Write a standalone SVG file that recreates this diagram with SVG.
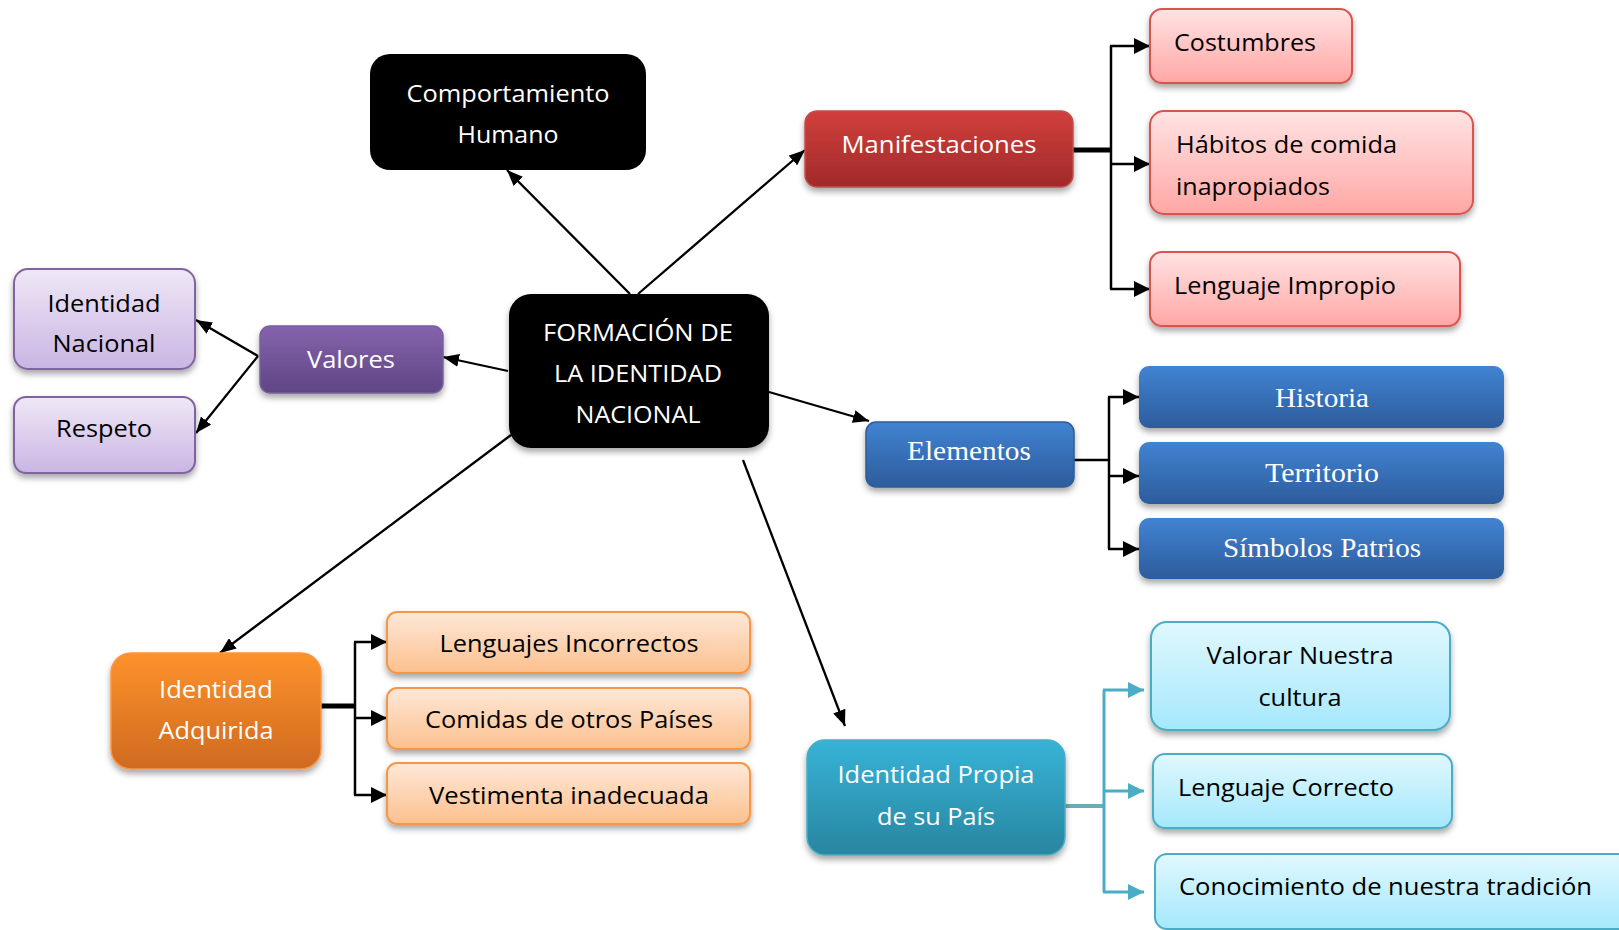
<svg xmlns="http://www.w3.org/2000/svg" width="1619" height="930" viewBox="0 0 1619 930">
<style>
.t{font-family:"Open Sans","Lato",sans-serif;font-size:24px;text-anchor:middle}
.tl{font-family:"Open Sans","Lato",sans-serif;font-size:24px;text-anchor:start}
.s{font-family:"Liberation Serif","Times New Roman",serif;font-size:28px;text-anchor:middle;fill:#fff}
.w{fill:#fff}.k{fill:#000}
.ln{stroke:#000;stroke-width:2.3;fill:none}
.br{stroke:#000;stroke-width:2.5;fill:none}
.tb{stroke:#4bacc6;stroke-width:3;fill:none}
</style>
<defs>
<filter id="sh" x="-10%" y="-10%" width="120%" height="130%"><feDropShadow dx="0" dy="4" stdDeviation="3" flood-color="#000" flood-opacity="0.35"/></filter>
<marker id="a" markerUnits="userSpaceOnUse" markerWidth="16" markerHeight="13" refX="16" refY="6.5" orient="auto"><path d="M0,0 L16,6.5 L0,13 z" fill="#000"/></marker>
<marker id="b" markerUnits="userSpaceOnUse" markerWidth="16" markerHeight="16" refX="16" refY="8" orient="auto"><path d="M0,0 L16,8 L0,16 z" fill="#000"/></marker>
<marker id="c" markerUnits="userSpaceOnUse" markerWidth="16" markerHeight="16" refX="16" refY="8" orient="auto"><path d="M0,0 L16,8 L0,16 z" fill="#4bacc6"/></marker>
<linearGradient id="gPu" x1="0" y1="0" x2="0" y2="1"><stop offset="0" stop-color="#8563ad"/><stop offset="1" stop-color="#5f4684"/></linearGradient>
<linearGradient id="gLp" x1="0" y1="0" x2="0" y2="1"><stop offset="0" stop-color="#efe8f6"/><stop offset="1" stop-color="#c9b5e3"/></linearGradient>
<linearGradient id="gRd" x1="0" y1="0" x2="0" y2="1"><stop offset="0" stop-color="#d03f3c"/><stop offset="1" stop-color="#a12a29"/></linearGradient>
<linearGradient id="gPk" x1="0" y1="0" x2="0" y2="1"><stop offset="0" stop-color="#ffe3e3"/><stop offset="1" stop-color="#ffa7a5"/></linearGradient>
<linearGradient id="gBl" x1="0" y1="0" x2="0" y2="1"><stop offset="0" stop-color="#4183d2"/><stop offset="1" stop-color="#2d5c9c"/></linearGradient>
<linearGradient id="gOr" x1="0" y1="0" x2="0" y2="1"><stop offset="0" stop-color="#fd922c"/><stop offset="1" stop-color="#cf6a1f"/></linearGradient>
<linearGradient id="gLo" x1="0" y1="0" x2="0" y2="1"><stop offset="0" stop-color="#fee8d8"/><stop offset="1" stop-color="#fcc08e"/></linearGradient>
<linearGradient id="gTe" x1="0" y1="0" x2="0" y2="1"><stop offset="0" stop-color="#37b3d7"/><stop offset="1" stop-color="#2886a0"/></linearGradient>
<linearGradient id="gCy" x1="0" y1="0" x2="0" y2="1"><stop offset="0" stop-color="#e0f8fe"/><stop offset="1" stop-color="#a5e8fc"/></linearGradient>
</defs>
<rect width="1619" height="930" fill="#fff"/>

<g id="connectors">
<path class="ln" d="M630,294 L507,170" marker-end="url(#a)"/>
<path class="ln" d="M638,294 L805,150" marker-end="url(#a)"/>
<path class="ln" d="M508,371 L443,357" marker-end="url(#a)"/>
<path class="ln" d="M258,356 L196,320" marker-end="url(#a)"/>
<path class="ln" d="M258,356 L196,433" marker-end="url(#a)"/>
<path class="ln" d="M769,392 L869,421" marker-end="url(#a)"/>
<path class="ln" d="M511,435 L220,653" marker-end="url(#a)"/>
<path class="ln" d="M743,460 L845,726" marker-end="url(#a)"/>

<path d="M1073,150 L1111,150" stroke="#000" stroke-width="5"/>
<path class="br" d="M1111,46 L1111,289"/>
<path class="br" d="M1110,46 L1150,46" marker-end="url(#b)"/>
<path class="br" d="M1110,164 L1150,164" marker-end="url(#b)"/>
<path class="br" d="M1110,289 L1150,289" marker-end="url(#b)"/>

<path class="br" d="M1074,460 L1109,460"/>
<path class="br" d="M1109,397 L1109,549"/>
<path class="br" d="M1108,397 L1139,397" marker-end="url(#b)"/>
<path class="br" d="M1108,476 L1139,476" marker-end="url(#b)"/>
<path class="br" d="M1108,549 L1139,549" marker-end="url(#b)"/>

<path d="M321,706 L355,706" stroke="#000" stroke-width="5"/>
<path class="br" d="M355,642 L355,795"/>
<path class="br" d="M354,642 L387,642" marker-end="url(#b)"/>
<path class="br" d="M354,718 L387,718" marker-end="url(#b)"/>
<path class="br" d="M354,795 L387,795" marker-end="url(#b)"/>

<path d="M1065,806 L1104,806" stroke="#6fa9b8" stroke-width="4"/>
<path class="tb" d="M1104,690 L1104,892"/>
<path class="tb" d="M1103,690 L1144,690" marker-end="url(#c)"/>
<path class="tb" d="M1103,791 L1144,791" marker-end="url(#c)"/>
<path class="tb" d="M1103,892 L1144,892" marker-end="url(#c)"/>
</g>

<g id="comportamiento">
<rect x="370" y="54" width="276" height="116" rx="20" fill="#000"/>
<text class="t w" x="508" y="102" textLength="203" lengthAdjust="spacingAndGlyphs">Comportamiento</text>
<text class="t w" x="508" y="143" textLength="101" lengthAdjust="spacingAndGlyphs">Humano</text>
</g>

<g id="formacion">
<rect x="509" y="294" width="260" height="154" rx="22" fill="#000" filter="url(#sh)"/>
<text class="t w" x="638" y="341" textLength="190" lengthAdjust="spacingAndGlyphs">FORMACIÓN DE</text>
<text class="t w" x="638" y="382" textLength="168" lengthAdjust="spacingAndGlyphs">LA IDENTIDAD</text>
<text class="t w" x="638" y="423" textLength="125" lengthAdjust="spacingAndGlyphs">NACIONAL</text>
</g>

<g id="valores">
<rect x="260" y="326" width="183" height="67" rx="10" fill="url(#gPu)" stroke="#7a5fa0" stroke-width="1.5" filter="url(#sh)"/>
<text class="t w" x="351" y="368" textLength="88" lengthAdjust="spacingAndGlyphs">Valores</text>
</g>

<g id="identidad-nacional">
<rect x="14" y="269" width="181" height="100" rx="14" fill="url(#gLp)" stroke="#8064a2" stroke-width="2" filter="url(#sh)"/>
<text class="t k" x="104" y="312" textLength="113" lengthAdjust="spacingAndGlyphs">Identidad</text>
<text class="t k" x="104" y="352" textLength="103" lengthAdjust="spacingAndGlyphs">Nacional</text>
</g>

<g id="respeto">
<rect x="14" y="397" width="181" height="76" rx="12" fill="url(#gLp)" stroke="#8064a2" stroke-width="2" filter="url(#sh)"/>
<text class="t k" x="104" y="437" textLength="96" lengthAdjust="spacingAndGlyphs">Respeto</text>
</g>

<g id="manifestaciones">
<rect x="805" y="111" width="268" height="76" rx="12" fill="url(#gRd)" stroke="#c0504d" stroke-width="1.5" filter="url(#sh)"/>
<text class="t w" x="939" y="153" textLength="195" lengthAdjust="spacingAndGlyphs">Manifestaciones</text>
</g>

<g id="costumbres">
<rect x="1150" y="9" width="202" height="74" rx="12" fill="url(#gPk)" stroke="#d9534f" stroke-width="2" filter="url(#sh)"/>
<text class="tl k" x="1174" y="51" textLength="142" lengthAdjust="spacingAndGlyphs">Costumbres</text>
</g>

<g id="habitos">
<rect x="1150" y="111" width="323" height="103" rx="14" fill="url(#gPk)" stroke="#d9534f" stroke-width="2" filter="url(#sh)"/>
<text class="tl k" x="1176" y="153" textLength="221" lengthAdjust="spacingAndGlyphs">Hábitos de comida</text>
<text class="tl k" x="1176" y="195" textLength="154" lengthAdjust="spacingAndGlyphs">inapropiados</text>
</g>

<g id="lenguaje-impropio">
<rect x="1150" y="252" width="310" height="74" rx="12" fill="url(#gPk)" stroke="#d9534f" stroke-width="2" filter="url(#sh)"/>
<text class="tl k" x="1174" y="294" textLength="222" lengthAdjust="spacingAndGlyphs">Lenguaje Impropio</text>
</g>

<g id="elementos">
<rect x="866" y="422" width="208" height="65" rx="10" fill="url(#gBl)" stroke="#2f5d95" stroke-width="1.5" filter="url(#sh)"/>
<text class="s" x="969" y="460" textLength="124" lengthAdjust="spacingAndGlyphs">Elementos</text>
</g>

<g id="historia">
<rect x="1139" y="366" width="365" height="62" rx="10" fill="url(#gBl)" filter="url(#sh)"/>
<text class="s" x="1322" y="407" textLength="94" lengthAdjust="spacingAndGlyphs">Historia</text>
</g>

<g id="territorio">
<rect x="1139" y="442" width="365" height="62" rx="10" fill="url(#gBl)" filter="url(#sh)"/>
<text class="s" x="1322" y="482" textLength="114" lengthAdjust="spacingAndGlyphs">Territorio</text>
</g>

<g id="simbolos">
<rect x="1139" y="518" width="365" height="61" rx="10" fill="url(#gBl)" filter="url(#sh)"/>
<text class="s" x="1322" y="557" textLength="198" lengthAdjust="spacingAndGlyphs">Símbolos Patrios</text>
</g>

<g id="identidad-adquirida">
<rect x="111" y="653" width="210" height="116" rx="20" fill="url(#gOr)" stroke="#f79646" stroke-width="1.5" filter="url(#sh)"/>
<text class="t w" x="216" y="698" textLength="114" lengthAdjust="spacingAndGlyphs">Identidad</text>
<text class="t w" x="216" y="739" textLength="115" lengthAdjust="spacingAndGlyphs">Adquirida</text>
</g>

<g id="lenguajes-incorrectos">
<rect x="387" y="612" width="363" height="61" rx="10" fill="url(#gLo)" stroke="#f79646" stroke-width="2" filter="url(#sh)"/>
<text class="t k" x="569" y="652" textLength="259" lengthAdjust="spacingAndGlyphs">Lenguajes Incorrectos</text>
</g>

<g id="comidas">
<rect x="387" y="688" width="363" height="61" rx="10" fill="url(#gLo)" stroke="#f79646" stroke-width="2" filter="url(#sh)"/>
<text class="t k" x="569" y="728" textLength="288" lengthAdjust="spacingAndGlyphs">Comidas de otros Países</text>
</g>

<g id="vestimenta">
<rect x="387" y="763" width="363" height="61" rx="10" fill="url(#gLo)" stroke="#f79646" stroke-width="2" filter="url(#sh)"/>
<text class="t k" x="569" y="804" textLength="280" lengthAdjust="spacingAndGlyphs">Vestimenta inadecuada</text>
</g>

<g id="identidad-propia">
<rect x="807" y="740" width="258" height="115" rx="18" fill="url(#gTe)" stroke="#4bacc6" stroke-width="1.5" filter="url(#sh)"/>
<text class="t w" x="936" y="783" textLength="197" lengthAdjust="spacingAndGlyphs">Identidad Propia</text>
<text class="t w" x="936" y="825" textLength="118" lengthAdjust="spacingAndGlyphs">de su País</text>
</g>

<g id="valorar">
<rect x="1151" y="622" width="299" height="108" rx="16" fill="url(#gCy)" stroke="#4bacc6" stroke-width="2" filter="url(#sh)"/>
<text class="t k" x="1300" y="664" textLength="187" lengthAdjust="spacingAndGlyphs">Valorar Nuestra</text>
<text class="t k" x="1300" y="706" textLength="83" lengthAdjust="spacingAndGlyphs">cultura</text>
</g>

<g id="lenguaje-correcto">
<rect x="1153" y="754" width="299" height="74" rx="12" fill="url(#gCy)" stroke="#4bacc6" stroke-width="2" filter="url(#sh)"/>
<text class="tl k" x="1178" y="796" textLength="216" lengthAdjust="spacingAndGlyphs">Lenguaje Correcto</text>
</g>

<g id="conocimiento">
<rect x="1155" y="854" width="480" height="75" rx="12" fill="url(#gCy)" stroke="#4bacc6" stroke-width="2"/>
<text class="tl k" x="1179" y="895" textLength="413" lengthAdjust="spacingAndGlyphs">Conocimiento de nuestra tradición</text>
</g>
</svg>
